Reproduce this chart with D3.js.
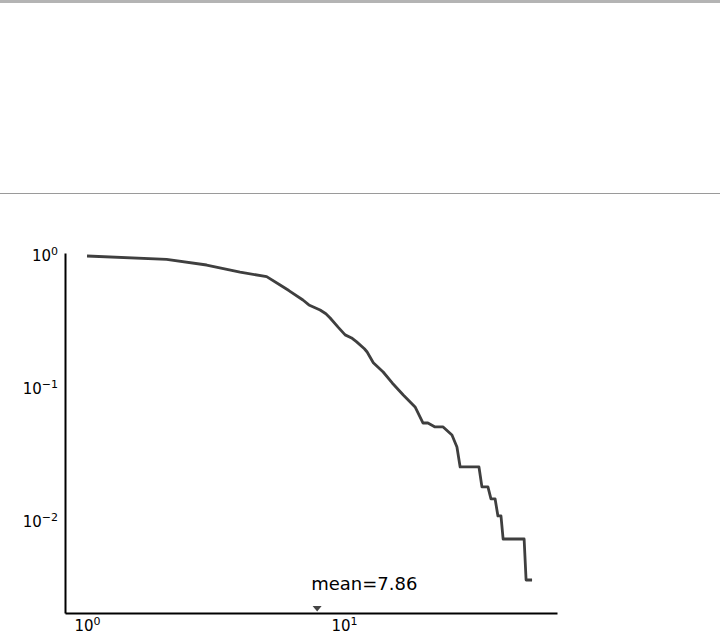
<!DOCTYPE html>
<html>
<head>
  <meta charset="utf-8">
  <script src="https://d3js.org/d3.v7.min.js"></script>
  <style>
    body { margin:0; background:#fff; }
    svg { display:block; font-family:"DejaVu Sans", sans-serif; }
  </style>
</head>
<body>
<script>
  // complementary cumulative degree distribution
  const degree = [1.0, 2.04, 2.92, 3.94, 5.0, 5.64, 6.1, 6.92, 7.3, 8.07, 8.5, 8.83,
                  9.5, 10.1, 10.7, 11.2, 12.0, 12.3, 13.0, 14.2, 15.4, 17.0, 18.9,
                  20.3, 21.2, 22.6, 24.3, 26.3, 27.5, 28.3, 33.5, 34.4, 36.3, 37.3,
                  38.7, 39.7, 40.8, 41.6, 50.2, 51.1, 53.9];
  const ccdf   = [0.991, 0.936, 0.848, 0.751, 0.693, 0.600, 0.545, 0.463, 0.425, 0.389, 0.365, 0.339,
                  0.288, 0.253, 0.240, 0.224, 0.199, 0.188, 0.156, 0.133, 0.110, 0.0893, 0.0726,
                  0.0550, 0.0550, 0.0514, 0.0514, 0.0447, 0.0363, 0.0257, 0.0257, 0.0182, 0.0182, 0.0148,
                  0.0148, 0.0110, 0.0110, 0.00738, 0.00738, 0.00363, 0.00363];
  const xTicks = [1, 10];
  const xTickExp = ["0", "1"];
  const yTicks = [1, 0.1, 0.01];
  const yTickExp = ["0", "\u22121", "\u22122"];
  const meanDegree = 7.86;

  const width = 720, height = 633;

  const svg = d3.select("body").append("svg")
    .attr("width", width)
    .attr("height", height);

  // header band + separator
  svg.append("rect").attr("x", 0).attr("y", 0).attr("width", width).attr("height", 3).attr("fill", "#b4b4b4");
  svg.append("line").attr("x1", 0).attr("x2", width).attr("y1", 193.5).attr("y2", 193.5)
    .attr("stroke", "#9a9a9a").attr("stroke-width", 1);

  const xScale = d3.scaleLog().domain([0.821, 67.4]).range([65, 557]);
  const yScale = d3.scaleLog().domain([1.044, 0.00205]).range([253, 613]);

  const xAxis = d3.axisBottom(xScale).tickValues(xTicks).tickSize(0).tickPadding(7);
  const yAxis = d3.axisLeft(yScale).tickValues(yTicks).tickSize(0).tickPadding(7);

  const gx = svg.append("g").attr("transform", `translate(0,${yScale.range()[1]})`).call(xAxis);
  const gy = svg.append("g").attr("transform", `translate(${xScale.range()[0]},0)`).call(yAxis);

  [gx, gy].forEach(g => {
    g.select(".domain").attr("stroke", "#000").attr("stroke-width", 2);
    g.selectAll("text").attr("font-family", "DejaVu Sans").attr("font-size", 15).attr("fill", "#000");
  });

  // 10^n labels with superscripts
  gx.selectAll(".tick text").each(function(d, i) {
    const t = d3.select(this).text("");
    t.append("tspan").text("10");
    t.append("tspan").attr("dy", -6).attr("font-size", 11).text(xTickExp[i]);
  });
  gy.selectAll(".tick text").each(function(d, i) {
    const t = d3.select(this).text("");
    t.append("tspan").text("10");
    t.append("tspan").attr("dy", -6).attr("font-size", 11).text(yTickExp[i]);
  });

  const points = degree.map((k, i) => [k, ccdf[i]]);
  const line = d3.line().x(d => xScale(d[0])).y(d => yScale(d[1]));

  svg.append("path")
    .datum(points)
    .attr("d", line)
    .attr("fill", "none")
    .attr("stroke", "#3f3f3f")
    .attr("stroke-width", 2.8)
    .attr("stroke-linejoin", "round");

  // mean marker
  const mx = xScale(meanDegree);
  const by = yScale.range()[1];
  svg.append("path")
    .attr("d", `M${mx - 4.5},${by - 7} L${mx + 4.5},${by - 7} L${mx},${by - 1.5} Z`)
    .attr("fill", "#444");
  svg.append("text")
    .attr("x", mx - 6)
    .attr("y", by - 23)
    .attr("font-size", 18)
    .attr("fill", "#000")
    .text("mean=" + meanDegree);
</script>
</body>
</html>
